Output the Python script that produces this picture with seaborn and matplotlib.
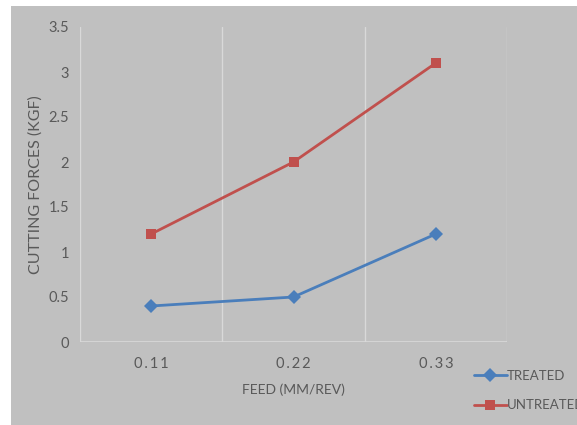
import pandas as pd
import matplotlib.pyplot as plt
import seaborn as sns
from matplotlib.patches import Rectangle

feed = ['0.11', '0.22', '0.33']
treated = [0.4, 0.5, 1.2]
untreated = [1.2, 2.0, 3.1]

df = pd.DataFrame({
    'feed': feed * 2,
    'force': treated + untreated,
    'series': ['TREATED'] * 3 + ['UNTREATED'] * 3,
})

sns.set_style('white')
plt.rcParams['font.family'] = ['Lato', 'DejaVu Sans']

fig = plt.figure(figsize=(5.77, 4.25), dpi=100)
fig.patch.set_facecolor('white')
# grey chart area with white strip on top/left
fig.patches.append(Rectangle((11 / 577, 0), 1, 1 - 6 / 425, transform=fig.transFigure,
                             facecolor='#c0c0c0', edgecolor='none', zorder=-10))

ax = fig.add_axes([80 / 577, 83 / 425, 427 / 577, 315 / 425])
ax.set_facecolor('#c0c0c0')

pos = {f: i for i, f in enumerate(feed)}
df['x'] = df['feed'].map(pos)

sns.lineplot(data=df, x='x', y='force', hue='series', style='series',
             palette={'TREATED': '#4a7ebb', 'UNTREATED': '#c0504d'},
             markers={'TREATED': 'D', 'UNTREATED': 's'}, dashes=False,
             markersize=7.5, linewidth=2, markeredgewidth=0, ax=ax)

ax.set_xlim(-0.5, 2.5)
ax.set_ylim(0, 3.5)
ax.set_yticks([0, 0.5, 1, 1.5, 2, 2.5, 3, 3.5])
ax.set_yticklabels(['0', '0.5', '1', '1.5', '2', '2.5', '3', '3.5'])
ax.set_xticks(range(len(feed)))
ax.set_xticklabels(['\u2009'.join(f) for f in feed])
for x in [-0.5, 0.5, 1.5, 2.5]:
    ax.axvline(x, color='#d9d9d9', linewidth=1, zorder=0)
ax.axhline(0, color='#d9d9d9', linewidth=1.2, zorder=0)
for s in ax.spines.values():
    s.set_visible(False)
ax.tick_params(axis='both', length=0, colors='#595959', labelsize=10.5)
ax.tick_params(axis='y', pad=8)
ax.tick_params(axis='x', pad=11)

ax.set_xlabel('FEED (MM/REV)', color='#595959', fontsize=10, labelpad=9)
ax.set_ylabel('CUTTING FORCES (KGF)', color='#595959', fontsize=11.5, labelpad=4)

handles, labels = ax.get_legend_handles_labels()
ax.legend(handles, labels, loc='upper left', bbox_to_anchor=(467 / 577, 62 / 425),
          bbox_transform=fig.transFigure, frameon=False, fontsize=9.5,
          labelcolor='#595959', handlelength=2.5, handletextpad=0.05,
          labelspacing=1.35, borderpad=0)

fig.savefig('out.png', dpi=100, facecolor=fig.get_facecolor())
